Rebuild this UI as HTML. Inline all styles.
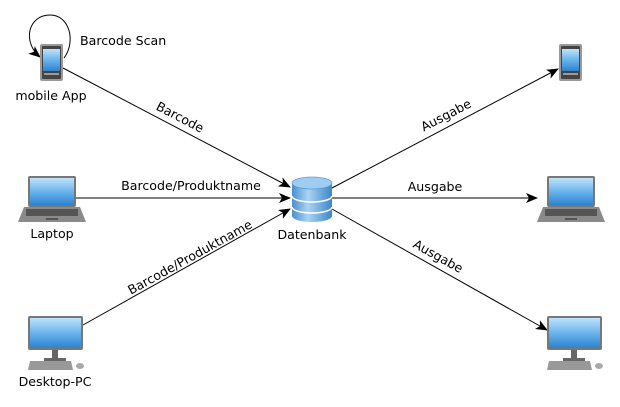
<!DOCTYPE html>
<html><head><meta charset="utf-8"><style>
html,body{margin:0;padding:0;background:#fff;width:620px;height:407px;overflow:hidden}
text{font-family:"DejaVu Sans","Liberation Sans",sans-serif;font-size:12.6px;fill:#000}
</style></head><body>
<svg width="620" height="407" viewBox="0 0 620 407" xmlns="http://www.w3.org/2000/svg">
<defs>
<linearGradient id="scr" x1="0" y1="0" x2="0" y2="1"><stop offset="0" stop-color="#bfe3fb"/><stop offset="0.5" stop-color="#6ab4ec"/><stop offset="1" stop-color="#2d83cf"/></linearGradient>
<linearGradient id="db" x1="0" y1="0" x2="1" y2="0"><stop offset="0" stop-color="#4a8fcf"/><stop offset="0.4" stop-color="#a9d3f3"/><stop offset="1" stop-color="#3f86c8"/></linearGradient>
<marker id="ar" markerWidth="12" markerHeight="10" refX="11" refY="5" orient="auto" markerUnits="userSpaceOnUse"><path d="M0,0 L12,5 L0,10 L3,5 Z" fill="#000"/></marker>
<g id="phone"><rect x="0" y="0" width="23" height="37" rx="2" fill="#9a9a9a"/><rect x="2" y="2" width="19" height="33" rx="1" fill="#444"/><rect x="3" y="5" width="17" height="22" fill="url(#scr)"/><rect x="4" y="29" width="15" height="2" fill="#999"/></g>
<g id="laptop"><rect x="10" y="0" width="48" height="31" rx="2" fill="#777"/><rect x="12" y="2" width="44" height="27" fill="url(#scr)"/><path d="M6,31 L62,31 L68,46 L0,46 Z" fill="#8a8a8a"/><rect x="8" y="33" width="52" height="7" fill="#555"/><rect x="28" y="42" width="12" height="2" fill="#555"/></g>
<g id="desk"><rect x="0" y="0" width="55" height="34" rx="2" fill="#777"/><rect x="2" y="2" width="51" height="30" fill="url(#scr)"/><rect x="24" y="34" width="6" height="8" fill="#666"/><rect x="16" y="42" width="22" height="3" fill="#666"/><path d="M2,45 L43,45 L45,54 L0,54 Z" fill="#999"/><ellipse cx="52" cy="50" rx="4" ry="3" fill="#aaa"/></g>
</defs>

<g stroke="#000" stroke-width="1" fill="none">
<path d="M64,58 C76,42 70,15 50,15 C28,15 22,42 40,57" marker-end="url(#ar)"/>
<line x1="63" y1="68" x2="290" y2="187" marker-end="url(#ar)"/>
<line x1="76" y1="198" x2="290" y2="198" marker-end="url(#ar)"/>
<line x1="83" y1="325" x2="290" y2="209" marker-end="url(#ar)"/>
<line x1="332" y1="188" x2="558" y2="69" marker-end="url(#ar)"/>
<line x1="332" y1="198" x2="537" y2="198" marker-end="url(#ar)"/>
<line x1="332" y1="209" x2="547" y2="330" marker-end="url(#ar)"/>
</g>

<use href="#phone" x="40" y="44"/>
<use href="#phone" x="559" y="44"/>
<use href="#laptop" x="18" y="176"/>
<use href="#laptop" x="537" y="176"/>
<use href="#desk" x="28" y="316"/>
<use href="#desk" x="547" y="316"/>

<g>
<path d="M292,184 L292,216 A20,6 0 0 0 332,216 L332,184 Z" fill="url(#db)"/>
<ellipse cx="312" cy="183" rx="20" ry="6" fill="#9fcdf2" stroke="#5b9ad6" stroke-width="0.8"/>
<path d="M292,196 A20,6 0 0 0 332,196" fill="none" stroke="#fff" stroke-width="1.5"/>
<path d="M292,207 A20,6 0 0 0 332,207" fill="none" stroke="#fff" stroke-width="1.5"/>
</g>

<text x="80" y="45">Barcode Scan</text>
<text x="51" y="100" text-anchor="middle">mobile App</text>
<text x="52" y="238" text-anchor="middle">Laptop</text>
<text x="55" y="386" text-anchor="middle">Desktop-PC</text>
<text x="312" y="239" text-anchor="middle">Datenbank</text>
<text x="191" y="190" text-anchor="middle">Barcode/Produktname</text>
<text x="435" y="191" text-anchor="middle">Ausgabe</text>
<text transform="translate(178,121) rotate(27.5)" text-anchor="middle">Barcode</text>
<text transform="translate(192,261) rotate(-29)" text-anchor="middle">Barcode/Produktname</text>
<text transform="translate(448,119) rotate(-27.5)" text-anchor="middle">Ausgabe</text>
<text transform="translate(436,260) rotate(29)" text-anchor="middle">Ausgabe</text>
</svg>
</body></html>
